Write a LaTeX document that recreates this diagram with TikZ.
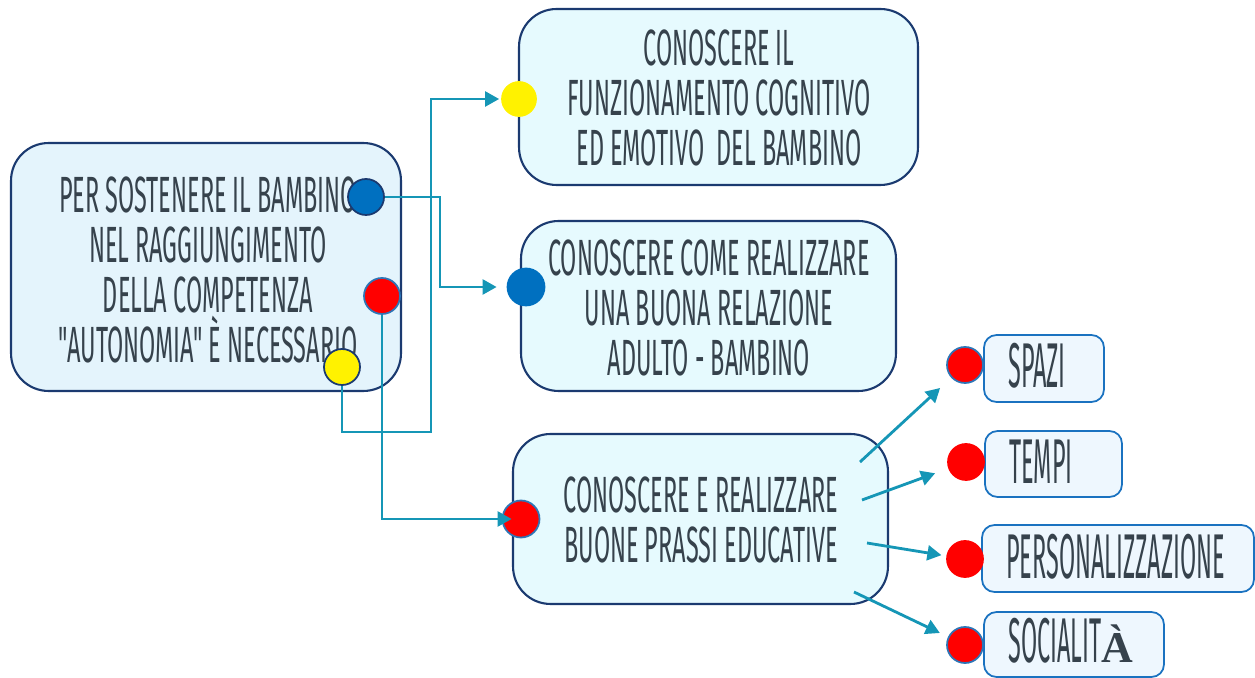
\documentclass[tikz,border=0pt]{standalone}
\usepackage{fontspec}
\usetikzlibrary{arrows.meta,calc}
\newfontfamily\am[FakeStretch=0.46]{Fira Sans}
\newfontfamily\amS[FakeStretch=0.37]{Fira Sans}
\newfontfamily\serifA{Liberation Serif}
\definecolor{navy}{HTML}{1B3A70}
\definecolor{bfill}{HTML}{E4F4FC}
\definecolor{cfill}{HTML}{E6FAFE}
\definecolor{sfill}{HTML}{EEF7FE}
\definecolor{sblue}{HTML}{1A72C0}
\definecolor{teal}{HTML}{1596B6}
\definecolor{dblue}{HTML}{0070C0}
\definecolor{txt}{HTML}{36424C}
\definecolor{rborder}{HTML}{2E75B6}
\tikzset{
  bigbox/.style={draw=navy, line width=1.2pt, rounded corners=0.75cm, inner sep=0pt},
  smallbox/.style={draw=sblue, line width=1pt, fill=sfill, rounded corners=0.25cm, inner sep=0pt},
  label/.style={text=txt, align=center, font=\am\fontsize{29}{28.4}\selectfont, inner sep=0pt},
  slabel/.style={text=txt, anchor=base west, text depth=0pt, font=\amS\fontsize{36}{30}\selectfont, inner sep=0pt},
  dot/.style={circle, minimum size=0.72cm, inner sep=0pt, line width=1pt},
  arr/.style={draw=teal, line width=1.6pt, -{Triangle[length=8pt,width=8.5pt]}},
}
\begin{document}
\begin{tikzpicture}[x=0.02cm,y=-0.02cm]
\useasboundingbox (0,0) rectangle (1255,678);
% big boxes
\node[bigbox, fill=bfill, minimum width=7.8cm, minimum height=4.96cm] (lb) at (206,267) {};
\node[bigbox, fill=cfill, minimum width=7.98cm, minimum height=3.52cm] (tb) at (718.5,97) {};
\node[bigbox, fill=cfill, minimum width=7.5cm, minimum height=3.4cm] (mb) at (708.5,306) {};
\node[bigbox, fill=cfill, minimum width=7.5cm, minimum height=3.4cm] (bb) at (700.5,519) {};
% texts
\node[label] (lt) at (208,270) {PER SOSTENERE IL BAMBINO\\NEL RAGGIUNGIMENTO\\DELLA COMPETENZA\\"AUTONOMIA" È NECESSARIO};
\node[label] (tt) at (719,98) {CONOSCERE IL\\FUNZIONAMENTO COGNITIVO\\ED EMOTIVO\ \ DEL BAMBINO};
\node[label] (mt) at (709,308) {CONOSCERE COME REALIZZARE\\UNA BUONA RELAZIONE\\ADULTO - BAMBINO};
\node[label] (bt) at (701,520) {CONOSCERE E REALIZZARE\\BUONE PRASSI EDUCATIVE};
% small boxes
\node[smallbox, minimum width=2.4cm, minimum height=1.34cm] (s1) at (1044,368.5) {};
\node[smallbox, minimum width=2.74cm, minimum height=1.32cm] (s2) at (1053.5,464) {};
\node[smallbox, minimum width=5.44cm, minimum height=1.34cm] (s3) at (1118,558.5) {};
\node[smallbox, minimum width=3.6cm, minimum height=1.3cm] (s4) at (1074,644.5) {};
\node[slabel] (l1) at (1008,388) {SPAZI};
\node[slabel] (l2) at (1009,484) {TEMPI};
\node[slabel] (l3) at (1006,579) {PERSONALIZZAZIONE};
\node[slabel] (l4) at (1008,663) {SOCIALIT{\serifA\fontsize{25}{28}\selectfont\bfseries À}};
% dots
\node[dot, fill=dblue, draw=navy] (cb1) at (366,197) {};
\node[dot, fill=red, draw=rborder] (cr1) at (382,296) {};
\node[dot, fill=yellow, draw=navy] (cy1) at (342,367) {};
\node[dot, fill=yellow, draw=yellow, minimum size=0.68cm] (cy2) at (519,99) {};
\node[dot, fill=dblue, draw=dblue, minimum size=0.74cm] (cb2) at (526,287) {};
\node[dot, fill=red, draw=rborder, minimum size=0.74cm] (cr2) at (521,519) {};
\node[dot, fill=red, draw=rborder] (d1) at (965,365) {};
\node[dot, fill=red, draw=red] (d2) at (966,462) {};
\node[dot, fill=red, draw=red] (d3) at (965,559) {};
\node[dot, fill=red, draw=rborder] (d4) at (965,645) {};
% connectors
\coordinate (k1) at (440,197);
\coordinate (k2) at (431,432);
\coordinate (p1) at (860,462);
\coordinate (p2) at (862,500);
\coordinate (p3) at (867,543);
\coordinate (p4) at (854,592);
\draw[arr, shorten >=0.2cm] (cb1.east) -- (k1) |- (cb2.west);
\draw[arr, shorten >=0.04cm] (cy1.south) |- (k2) |- (cy2.west);
\draw[arr, shorten >=-0.2cm] (cr1.south) |- (cr2.west);
\draw[arr, shorten >=0.3cm] (p1) -- (d1);
\draw[arr, shorten >=0.28cm] (p2) -- (d2);
\draw[arr, shorten >=0.1cm] (p3) -- (d3);
\draw[arr, shorten >=0.18cm] (p4) -- (d4);
\end{tikzpicture}
\end{document}
